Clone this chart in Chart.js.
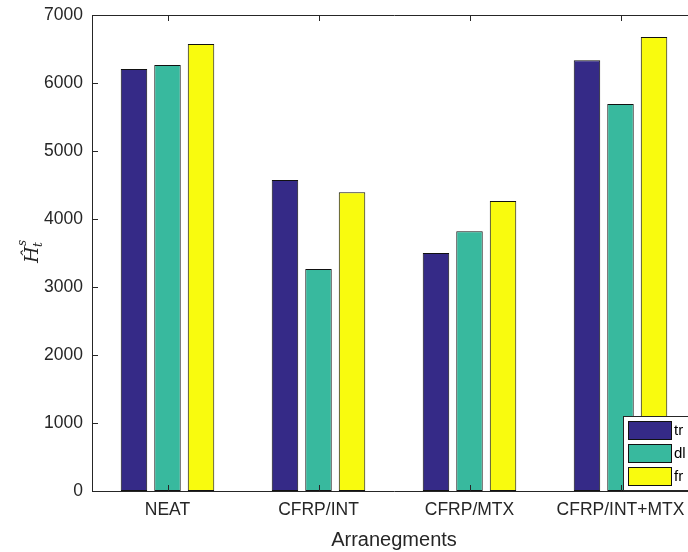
<!DOCTYPE html>
<html>
<head>
<meta charset="utf-8">
<script src="https://cdn.jsdelivr.net/npm/chart.js@4.4.1/dist/chart.umd.min.js"></script>
<style>
  html, body { margin: 0; padding: 0; background: #fff; overflow: hidden; }
  #wrap { width: 710px; height: 552px; position: relative; }
</style>
</head>
<body>
<div id="wrap"><canvas id="c" width="710" height="552"></canvas></div>
<script>
const categories = ['NEAT', 'CFRP/INT', 'CFRP/MTX', 'CFRP/INT+MTX'];
const seriesNames = ['tr', 'dl', 'fr'];
const trValues = [6205, 4575, 3500, 6335];
const dlValues = [6265, 3265, 3820, 5690];
const frValues = [6575, 4395, 4265, 6675];
const yTicks = [0, 1000, 2000, 3000, 4000, 5000, 6000, 7000];
const colors = ['#352a87', '#38b99e', '#f9fb0e'];

const FONT = "'Liberation Sans', Arial, Helvetica, sans-serif";
const AX = '#262626';

const frame = {
  id: 'frame',
  afterDatasetsDraw(chart) {
    const { ctx, chartArea: a, scales } = chart;
    ctx.save();
    ctx.strokeStyle = AX;
    ctx.lineWidth = 1;
    ctx.beginPath();
    ctx.rect(Math.round(a.left) + 0.5, Math.round(a.top) + 0.5, Math.round(a.right - a.left), Math.round(a.bottom - a.top));
    ctx.stroke();
    ctx.beginPath();
    yTicks.forEach(v => {
      const y = Math.round(scales.y.getPixelForValue(v)) + 0.5;
      ctx.moveTo(a.left, y); ctx.lineTo(a.left + 6, y);
      ctx.moveTo(a.right, y); ctx.lineTo(a.right - 6, y);
    });
    categories.forEach((c, i) => {
      const x = Math.round(scales.x.getPixelForValue(i)) + 0.5;
      ctx.moveTo(x, a.top); ctx.lineTo(x, a.top + 6);
      ctx.moveTo(x, a.bottom); ctx.lineTo(x, a.bottom - 6);
    });
    ctx.stroke();
    ctx.restore();
  },
  afterDraw(chart) {
    const { ctx } = chart;
    ctx.save();
    const lx = 623.5, ly = 416.5, lw = 100, lh = 74;
    ctx.fillStyle = '#fff';
    ctx.fillRect(lx, ly, lw, lh);
    ctx.strokeStyle = AX;
    ctx.lineWidth = 1;
    ctx.strokeRect(lx, ly, lw, lh);
    const ys = [421, 444, 467];
    chart.data.datasets.forEach((ds, i) => {
      ctx.fillStyle = ds.backgroundColor;
      ctx.fillRect(628.5, ys[i] + 0.5, 43, 18);
      ctx.strokeStyle = '#111';
      ctx.strokeRect(628.5, ys[i] + 0.5, 43, 18);
      ctx.fillStyle = '#000';
      ctx.font = '15px ' + FONT;
      ctx.textBaseline = 'middle';
      ctx.textAlign = 'left';
      ctx.fillText(ds.label, 674, ys[i] + 10);
    });
    ctx.translate(32, 252);
    ctx.rotate(-Math.PI / 2);
    ctx.fillStyle = AX;
    ctx.textBaseline = 'alphabetic';
    ctx.textAlign = 'left';
    ctx.font = "italic 19px 'DejaVu Serif', 'Liberation Serif', serif";
    ctx.fillText('\u0124', -11, 6);
    ctx.font = "italic 12px 'DejaVu Serif', 'Liberation Serif', serif";
    ctx.fillText('t', 5, 10);
    ctx.fillText('s', 6, -6);
    ctx.restore();
  }
};

new Chart(document.getElementById('c'), {
  type: 'bar',
  data: {
    labels: categories,
    datasets: [
      { label: seriesNames[0], data: trValues, backgroundColor: colors[0] },
      { label: seriesNames[1], data: dlValues, backgroundColor: colors[1] },
      { label: seriesNames[2], data: frValues, backgroundColor: colors[2] }
    ].map(d => Object.assign(d, { borderColor: '#111', borderWidth: 1, borderSkipped: false,
      categoryPercentage: 0.666, barPercentage: 0.79 }))
  },
  options: {
    responsive: false,
    animation: false,
    devicePixelRatio: 1,
    layout: { padding: { top: 15, right: 14, bottom: 0, left: 0 } },
    plugins: { legend: { display: false }, tooltip: { enabled: false } },
    scales: {
      x: {
        offset: true,
        grid: { display: false, drawTicks: false },
        border: { display: false },
        ticks: { color: AX, font: { family: FONT, size: 17.5 }, padding: 9, maxRotation: 0, autoSkip: false },
        title: { display: true, text: 'Arranegments', color: AX, font: { family: FONT, size: 20 }, padding: { top: 0, bottom: 0 } },
        afterFit(s) { s.height = 61; s.paddingLeft = 0; s.paddingRight = 0; }
      },
      y: {
        min: 0, max: 7000,
        afterBuildTicks(s) { s.ticks = yTicks.map(v => ({ value: v })); },
        grid: { display: false, drawTicks: false },
        border: { display: false },
        ticks: { color: AX, font: { family: FONT, size: 17.5 }, padding: 9, callback: v => String(v) },
        afterFit(s) { s.width = 92; s.paddingTop = 0; s.paddingBottom = 0; }
      }
    }
  },
  plugins: [frame]
});
</script>
</body>
</html>
